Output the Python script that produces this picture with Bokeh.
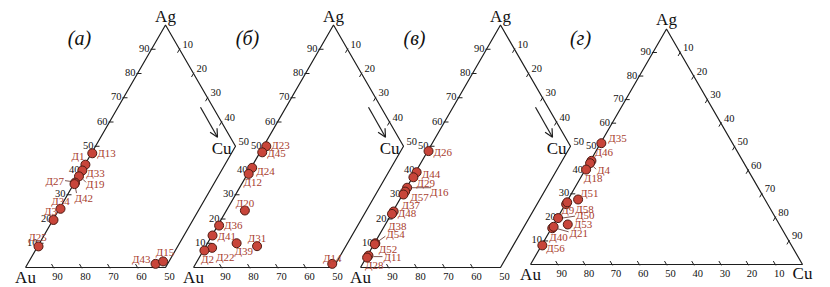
import math
from bokeh.plotting import figure
from bokeh.models import Range1d, Arrow, OpenHead
from bokeh.core.properties import value
from bokeh.embed import file_html
from bokeh.resources import INLINE

W, H = 830, 287
K = math.sqrt(3) / 2
SERIF = value("Liberation Serif")

# ---- compositions (at.% Ag, at.% Cu; Au is the balance) ----
a_names = ["Д13", "Д1", "Д33", "Д19", "Д27", "Д42", "Д34", "Д3", "Д25", "Д43", "Д15"]
a_ag = [47.1, 42.4, 40.0, 37.6, 35.0, 34.4, 24.2, 19.6, 8.7, 1.5, 2.5]
a_cu = [0.3, 0.2, 0.3, 0.3, 0.2, 0.3, 0.4, 0.2, 0.3, 45.7, 47.9]

b_names = ["Д23", "Д45", "Д24", "Д12", "Д20", "Д36", "Д41", "Д22", "Д2", "Д39", "Д31", "Д14"]
b_ag = [50.0, 47.5, 41.1, 38.6, 23.5, 17.3, 13.2, 8.1, 7.0, 10.0, 8.8, 1.5]
b_cu = [1.0, 0.8, 0.4, 0.4, 6.6, 0.5, 0.2, 2.6, 0.4, 10.4, 18.3, 48.8]

c_names = ["Д26", "Д44", "Д29", "Д16", "Д57", "Д37", "Д48", "Д38", "Д54", "Д52", "Д11", "Д28"]
c_ag = [48.0, 39.3, 37.2, 32.9, 31.3, 30.1, 23.1, 22.1, 10.0, 9.6, 4.9, 4.1]
c_cu = [0.3, 0.4, 0.3, 0.2, 0.3, 0.3, 0.3, 0.2, 0.3, 0.3, 0.4, 0.3]

d_names = ["Д35", "Д46", "Д4", "Д18", "Д51", "Д9", "Д58", "Д50", "Д53", "Д40", "Д21", "Д56"]
d_ag = [51.5, 44.0, 43.0, 40.3, 27.6, 25.6, 26.4, 19.7, 17.0, 15.4, 16.0, 8.1]
d_cu = [0.3, 0.4, 0.4, 0.3, 3.7, 0.3, 0.3, 0.3, 5.2, 0.3, 0.5, 0.3]

# ---- panel frames: Au corner (px), side length (px), visible Cu limit ----
PANELS = {
    "а": dict(x0=25, y0=267, side=280, cu_max=50),
    "б": dict(x0=193, y0=267, side=280, cu_max=50),
    "в": dict(x0=360, y0=267, side=280, cu_max=50),
    "г": dict(x0=530, y0=264, side=272, cu_max=100),
}
SERIES = {
    "а": (a_names, a_ag, a_cu),
    "б": (b_names, b_ag, b_cu),
    "в": (c_names, c_ag, c_cu),
    "г": (d_names, d_ag, d_cu),
}

# label placement: offset (px, screen) from the point and alignment
LABEL_POS = {
    "а": {"Д13": (5, 0, "left"), "Д1": (-1, -9, "right"), "Д33": (4, 2, "left"),
          "Д19": (7, 8, "left"), "Д27": (-11, -2, "right"), "Д42": (0, 14, "left"),
          "Д34": (0, -8, "center"), "Д3": (-3, -9, "center"), "Д25": (-1, -9, "center"),
          "Д43": (-5, -5, "right"), "Д15": (2, -9, "center")},
    "б": {"Д23": (5, -1, "left"), "Д45": (5, 1, "left"), "Д24": (4, 3, "left"),
          "Д12": (4, 8, "center"), "Д20": (0, -8, "center"), "Д36": (5, -1, "left"),
          "Д41": (5, 1, "left"), "Д22": (4, 9, "left"), "Д2": (3, 8, "center"),
          "Д39": (-2, 8, "left"), "Д31": (0, -8, "center"), "Д14": (0, -6, "center")},
    "в": {"Д26": (5, 1, "left"), "Д44": (5, 2, "left"), "Д29": (3, 6, "left"),
          "Д16": (23, 4, "left"), "Д57": (5, 5, "left"), "Д37": (-2, 10, "left"),
          "Д48": (4, 2, "left"), "Д38": (-4, 12, "left"), "Д54": (11, -9, "left"),
          "Д52": (4, 5, "left"), "Д11": (15, 1, "left"), "Д28": (-2, 7, "left")},
    "г": {"Д35": (7, -5, "left"), "Д46": (3, -9, "left"), "Д4": (7, 7, "left"),
          "Д18": (7, 8, "center"), "Д51": (2, -6, "left"), "Д9": (-5, 6, "left"),
          "Д58": (8, 7, "left"), "Д50": (18, -3, "left"), "Д53": (6, 0, "left"),
          "Д40": (-3, 9, "left"), "Д21": (16, 6, "left"), "Д56": (4, 3, "left")},
}
LEADERS = {
    "а": {"Д19": ((4, 3), (7, 6)), "Д27": ((-10, -2), (-3, -1)), "Д42": ((2, 9), (1, 4))},
    "в": {"Д16": ((4, 0), (24, 0)), "Д54": ((3, -2), (10, -7)), "Д11": ((5, 1), (14, 1))},
    "г": {"Д4": ((3, 3), (6, 6)), "Д50": ((4, 0), (17, -2)), "Д21": ((4, 2), (15, 5))},
}

LINE = "#1e1e1e"
PT_FILL = "#c8453a"
PT_LINE = "#4e1a12"
LBL = "#a8402e"


def txy(pn, ag, cu):
    g = PANELS[pn]
    x = g["x0"] + g["side"] * (cu + ag / 2) / 100
    y = g["y0"] - g["side"] * K * ag / 100
    return x, y


p = figure(width=W, height=H, x_range=Range1d(0, W), y_range=Range1d(H, 0),
           output_backend="svg", toolbar_location=None,
           x_axis_type=None, y_axis_type=None, min_border=0)
p.outline_line_color = None
p.grid.visible = False
p.background_fill_color = "white"
p.border_fill_color = "white"

for pn, g in PANELS.items():
    cm = g["cu_max"]
    # outline of the visible part of the triangle
    if cm < 100:
        corners = [(0, 0), (0, cm), (100 - cm, cm), (100, 0), (0, 0)]
    else:
        corners = [(0, 0), (0, 100), (100, 0), (0, 0)]
    pts = [txy(pn, ag, cu) for ag, cu in corners]
    p.line([q[0] for q in pts], [q[1] for q in pts], line_color=LINE, line_width=1.2)

    tx0, ty0, tx1, ty1 = [], [], [], []
    lx, ly, lt = [], [], []
    rx, ry, rt = [], [], []
    bx, by, bt = [], [], []
    # Ag scale on the Au–Ag side
    for v in range(10, 100, 10):
        x, y = txy(pn, v, 0)
        tx0.append(x - 1); ty0.append(y); tx1.append(x + 4); ty1.append(y)
        lx.append(x - 2); ly.append(y - 1); lt.append(str(v))
    # Cu scale on the Ag–Cu side
    top = 50 if cm < 100 else 90
    for v in range(10, top + 1, 10):
        x, y = txy(pn, 100 - v, v)
        if not (cm < 100 and v == 50):
            tx0.append(x + 0.5); ty0.append(y - K)
            tx1.append(x - 2.0); ty1.append(y + 4 * K)
        rx.append(x + 3); ry.append(y - 5); rt.append(str(v))
    # Au scale on the base
    low = 50 if cm < 100 else 10
    for v in range(90, low - 1, -10):
        x, y = txy(pn, 0, 100 - v)
        if not (cm < 100 and v == 50):
            tx0.append(x + 0.5); ty0.append(y + K)
            tx1.append(x - 2.0); ty1.append(y - 4 * K)
        bx.append(x + 4); by.append(y + 9); bt.append(str(v))
    p.segment(tx0, ty0, tx1, ty1, line_color=LINE, line_width=1)
    for xs_, ys_, ts_, al in ((lx, ly, lt, "right"), (rx, ry, rt, "left"),
                              (bx, by, bt, "center")):
        p.text(xs_, ys_, text=ts_, text_align=al, text_baseline="middle",
               text_font=SERIF, text_font_size="10.5px", text_color="#111")

    # corner names
    ax, ay = txy(pn, 100, 0)
    p.text([ax], [ay - 9], text=["Ag"], text_align="center", text_baseline="middle",
           text_font=SERIF, text_font_size="17px", text_color="#111")
    ux, uy = txy(pn, 0, 0)
    p.text([ux], [uy + 10], text=["Au"], text_align="center", text_baseline="middle",
           text_font=SERIF, text_font_size="17px", text_color="#111")
    if cm < 100:
        cx, cy = txy(pn, 100 - cm, cm)
        p.text([cx - 4], [cy + 2], text=["Cu"], text_align="right", text_baseline="middle",
               text_font=SERIF, text_font_size="17px", text_color="#111")
        p.add_layout(Arrow(end=OpenHead(size=8, line_width=1.2, line_color=LINE),
                           x_start=cx - 35, y_start=cy - 39, x_end=cx - 18, y_end=cy - 9,
                           line_width=1.2, line_color=LINE))
    else:
        cx, cy = txy(pn, 0, 100)
        p.text([cx], [cy + 9], text=["Cu"], text_align="center", text_baseline="middle",
               text_font=SERIF, text_font_size="17px", text_color="#111")

    # panel letter
    p.text([ax - 86], [37], text=[f"({pn})"], text_align="center", text_baseline="middle",
           text_font=SERIF, text_font_size="20px", text_font_style="italic",
           text_color="#111")

    # samples
    names, ags, cus = SERIES[pn]
    xs, ys = zip(*[txy(pn, a, c) for a, c in zip(ags, cus)])
    for nm, x, y in zip(names, xs, ys):
        if nm in LEADERS.get(pn, {}):
            (dx0, dy0), (dx1, dy1) = LEADERS[pn][nm]
            p.segment([x + dx0], [y + dy0], [x + dx1], [y + dy1],
                      line_color="#5a2a22", line_width=0.8)
    p.scatter(list(xs), list(ys), size=9, fill_color=PT_FILL,
              line_color=PT_LINE, line_width=1)
    for align in ("left", "right", "center"):
        sel = [i for i, nm in enumerate(names) if LABEL_POS[pn][nm][2] == align]
        if not sel:
            continue
        p.text([xs[i] + LABEL_POS[pn][names[i]][0] for i in sel],
               [ys[i] + LABEL_POS[pn][names[i]][1] for i in sel],
               text=[names[i] for i in sel], text_align=align, text_baseline="middle",
               text_font=SERIF, text_font_size="11px", text_color=LBL)

open("out.html", "w").write(file_html(p, INLINE))
